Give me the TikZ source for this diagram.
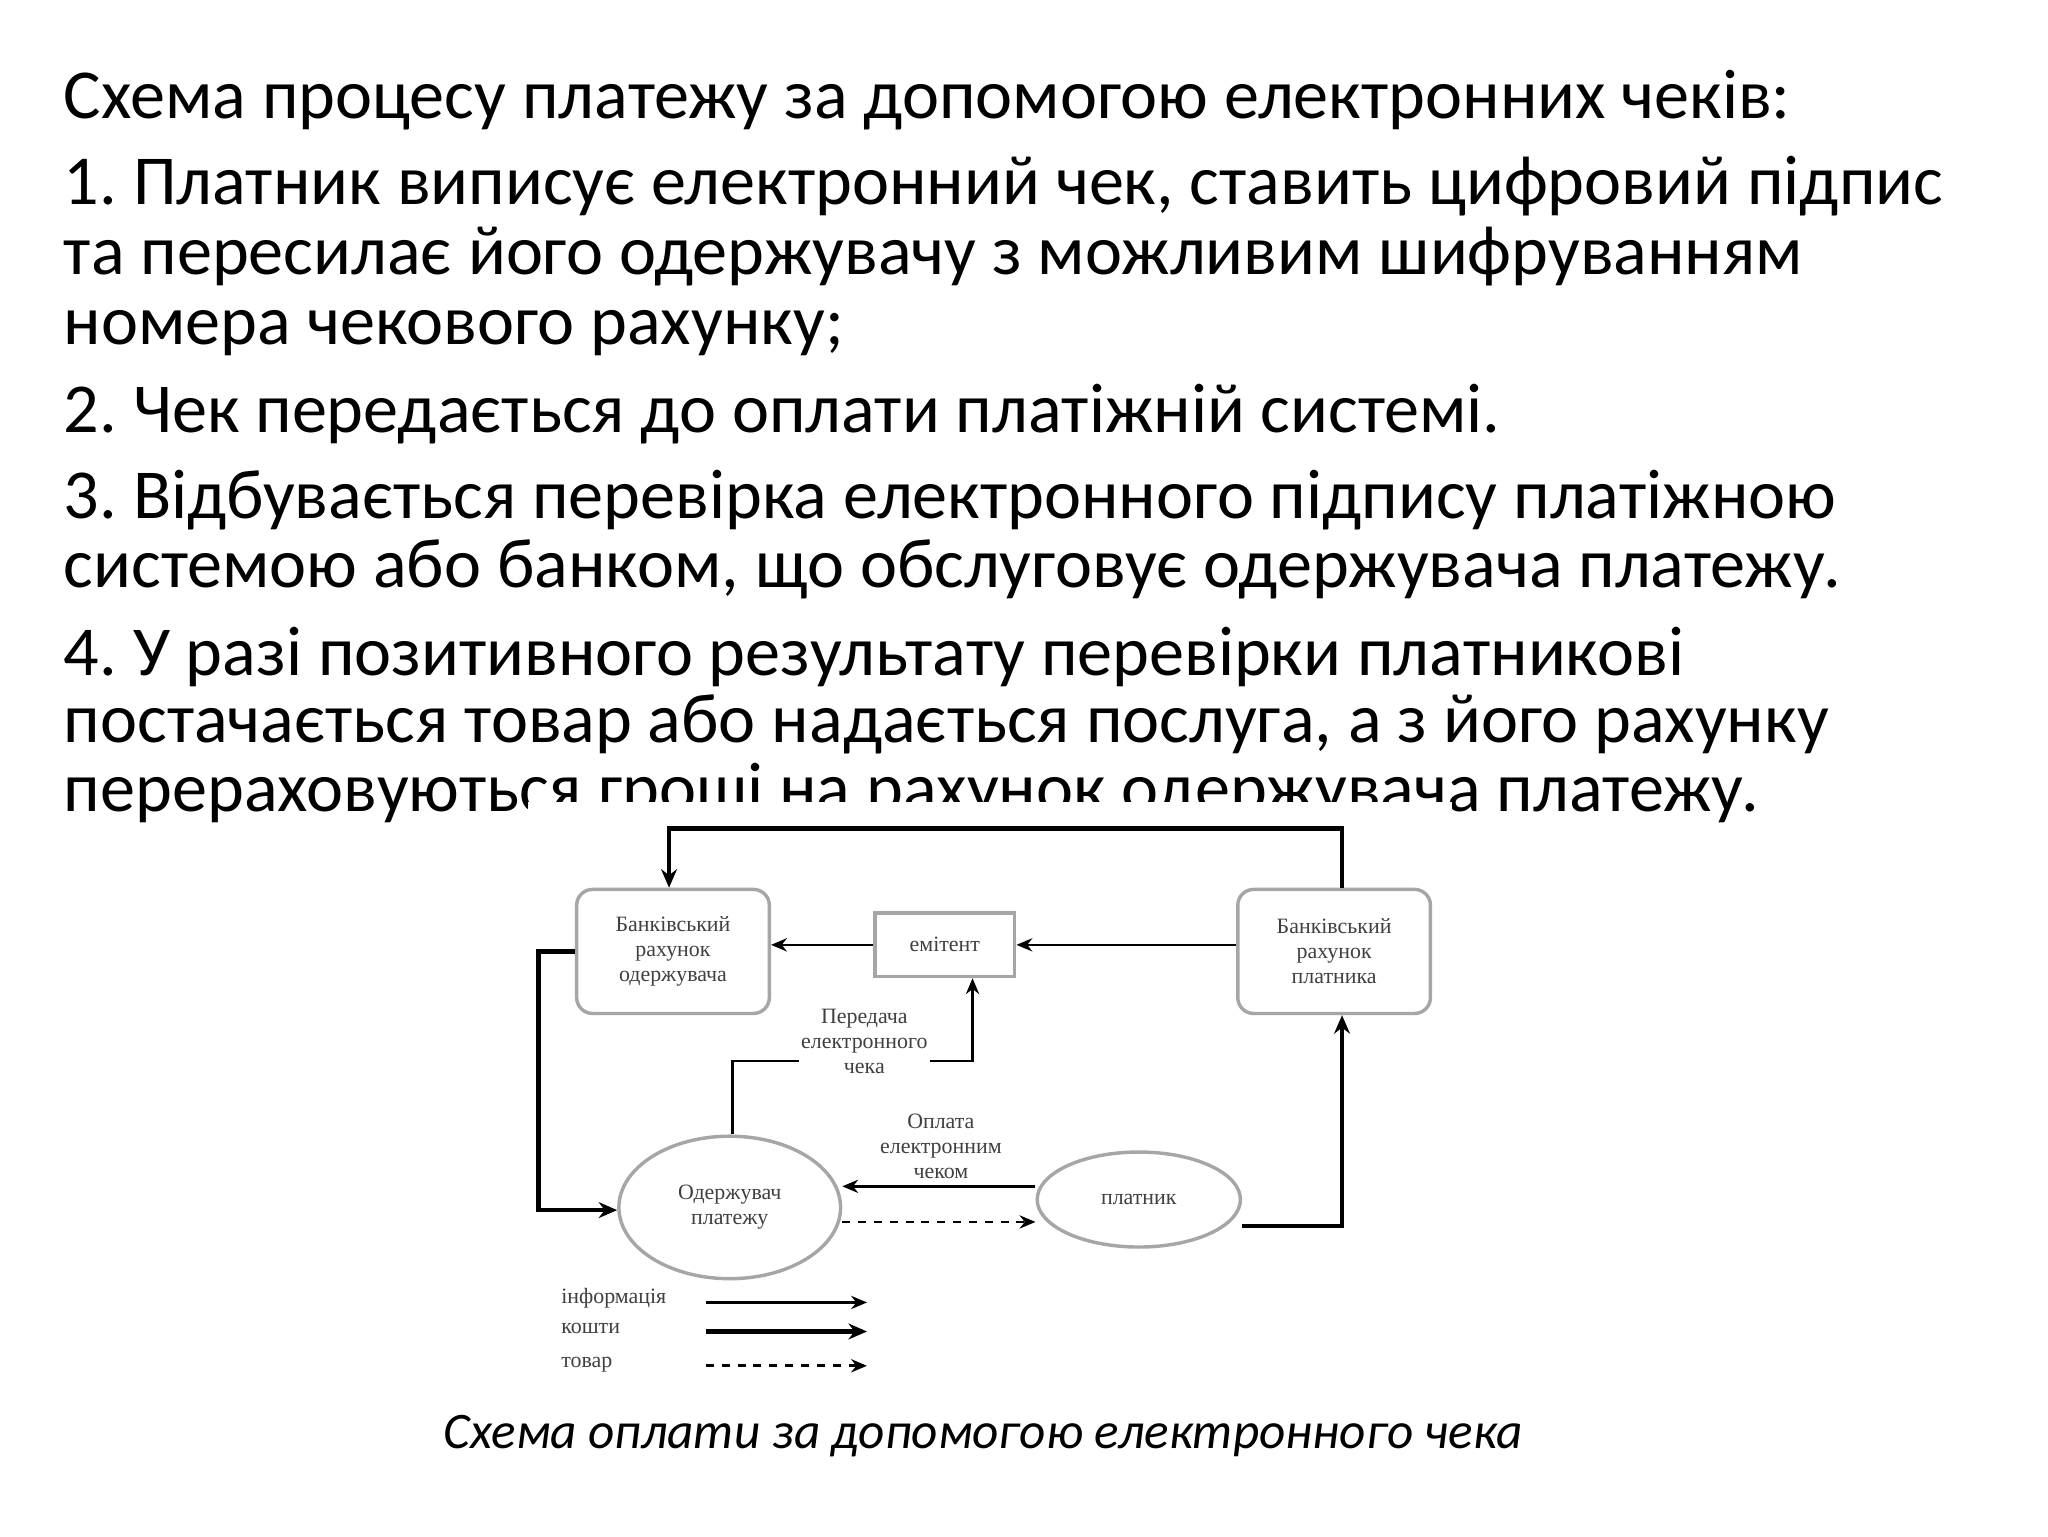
\documentclass[tikz,border=0pt]{standalone}
\usepackage{fontspec}
\setmainfont{Carlito}
\newfontfamily\dgfont{Liberation Serif}
\usetikzlibrary{arrows.meta,shapes.geometric}
\frenchspacing
\begin{document}
\begin{tikzpicture}[x=0.5pt,y=-0.5pt,
  ln/.style={anchor=base west,inner sep=0,font=\fontsize{26.6}{30}\selectfont},
  bx/.style={draw=gray!70,line width=1.3pt,rounded corners=6pt,minimum width=73pt,minimum height=47pt,align=center,font=\dgfont\fontsize{8.3}{9.5}\selectfont,text=black!75},
  el/.style={draw=gray!70,line width=1.3pt,ellipse,inner sep=0,align=center,font=\dgfont\fontsize{8.3}{9.5}\selectfont,text=black!75},
  lbl/.style={align=center,font=\dgfont\fontsize{8.3}{9.5}\selectfont,text=black!75,inner sep=0},
  info/.style={line width=1pt,-{Stealth[length=6pt,width=5pt]}},
  money/.style={line width=1.8pt,-{Stealth[length=7pt,width=6pt]}},
  goods/.style={line width=1pt,dashed,-{Stealth[length=6pt,width=5pt]}}]
\useasboundingbox (0,0) rectangle (1552,1164);
\fill[white] (0,0) rectangle (1552,1164);
\node[ln] (t0) at (48,90) {Схема процесу платежу за допомогою електронних чеків:};
\node[ln] (t1) at (48,155) {1. Платник виписує електронний чек, ставить цифровий підпис};
\node[ln] (t2) at (48,208) {та пересилає його одержувачу з можливим шифруванням};
\node[ln] (t3) at (48,261) {номера чекового рахунку;};
\node[ln] (t4) at (48,328) {2. Чек передається до оплати платіжній системі.};
\node[ln] (t5) at (48,393) {3. Відбувається перевірка електронного підпису платіжною};
\node[ln] (t6) at (48,445) {системою або банком, що обслуговує одержувача платежу.};
\node[ln] (t7) at (48,512) {4. У разі позитивного результату перевірки платникові};
\node[ln] (t8) at (48,563) {постачається товар або надається послуга, а з його рахунку};
\node[ln] (t9) at (48,615) {перераховуються гроші на рахунок одержувача платежу.};
\fill[white] (400,608) rectangle (1100,1065);
\begin{scope}[shift={(-5,-6)}]
\node[bx] (ba) at (515,727) {Банківський\\рахунок\\одержувача};
\node[bx] (bp) at (1016,727) {Банківський\\рахунок\\платника};
\node[draw=gray!70,line width=1.3pt,minimum width=53pt,minimum height=24pt,font=\dgfont\fontsize{8.3}{9.5}\selectfont,text=black!75] (em) at (721,722) {емітент};
\node[el,minimum width=84pt,minimum height=54pt] (od) at (558,921) {Одержувач\\платежу};
\node[el,minimum width=77pt,minimum height=36pt] (pl) at (868,915) {платник};
\coordinate (c1) at (1022,634);
\coordinate (c2) at (512,634);
\draw[money] (bp.north -| c1) -- (c1) -- (c2) -- (ba.north -| c2);
\draw[info] (bp.west |- em) -- (em.east);
\draw[info] (em.west) -- (ba.east |- em);
\coordinate (c3) at (413,727);
\coordinate (c4) at (413,923);
\draw[money] (ba.west |- c3) -- (c3) -- (c4) -- (od.west |- c4);
\coordinate (c5) at (560,810);
\coordinate (c6) at (742,810);
\draw[info] (od.north -| c5) -- (c5) -- (c6) -- (em.south -| c6);
\node[lbl,fill=white,inner sep=1pt] (lt1) at (660,795) {Передача\\електронного\\чека};
\coordinate (c7) at (792,905);
\draw[info] (pl.west |- c7) -- (od.east |- c7);
\coordinate (c8) at (640,932);
\draw[goods] (od.east |- c8) -- (pl.west |- c8);
\node[lbl] (lt2) at (718,875) {Оплата\\електронним\\чеком};
\coordinate (c9) at (1022,935);
\draw[money] (pl.east |- c9) -- (c9) -- (bp.south -| c9);
\node[lbl,anchor=west] (lg1) at (430,990) {інформація};
\node[lbl,anchor=west] (lg2) at (430,1013) {кошти};
\node[lbl,anchor=west] (lg3) at (430,1040) {товар};
\coordinate (a1) at (540,993); \coordinate (b1) at (662,993);
\coordinate (a2) at (540,1015); \coordinate (b2) at (662,1015);
\coordinate (a3) at (540,1041); \coordinate (b3) at (662,1041);
\draw[info] (a1) -- (b1);
\draw[money] (a2) -- (b2);
\draw[goods] (a3) -- (b3);
\end{scope}
\node[font=\itshape\fontsize{19.4}{22}\selectfont] (cap) at (745,1088) {Схема оплати за допомогою електронного чека};
\end{tikzpicture}
\end{document}
